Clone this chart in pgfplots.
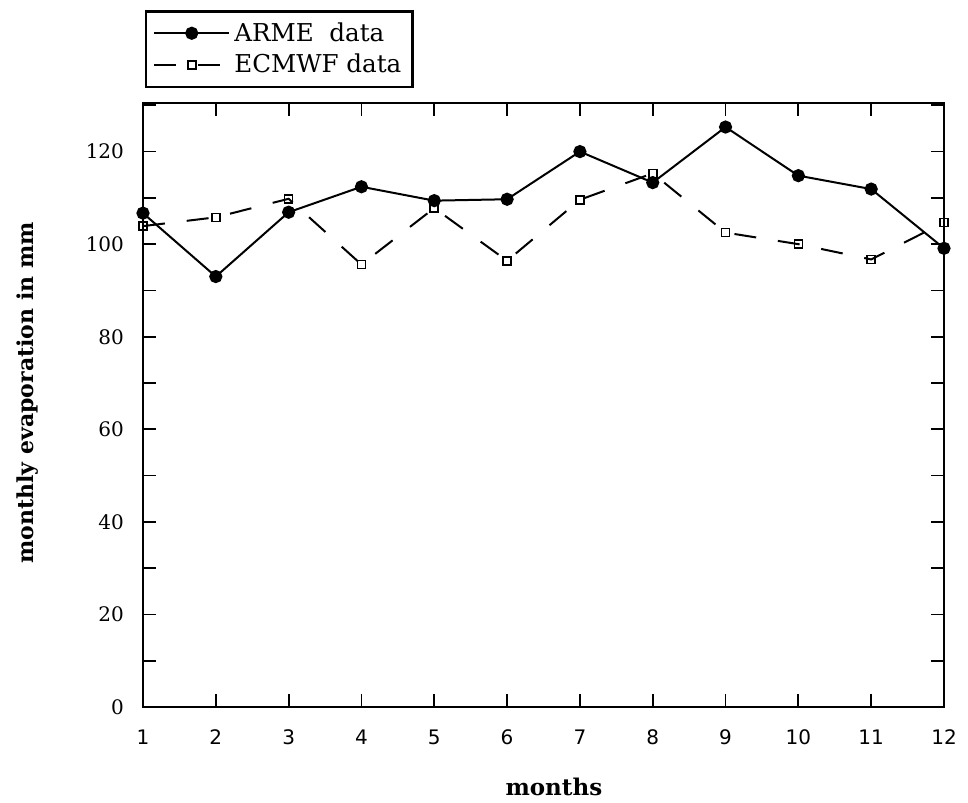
\documentclass[border=0pt]{standalone}
\usepackage{fontspec}
\setmainfont{DejaVu Serif}
\newfontfamily\sansfont{DejaVu Sans}
\usepackage{pgfplots}
\pgfplotsset{compat=1.18}
\usetikzlibrary{calc}

\begin{document}
\begin{tikzpicture}
\begin{axis}[
    scale only axis,
    width=400.5pt, height=302pt,
    xmin=1, xmax=12, ymin=0, ymax=130.5,
    xtick={1,...,12}, ytick={0,20,...,120},
    minor ytick={10,30,...,130},
    tick align=inside,
    major tick length=6.5pt, minor tick length=6.5pt,
    xtick pos=both, ytick pos=both,
    xticklabel pos=lower, yticklabel pos=left,
    axis line style={line width=1.2pt},
    every tick/.style={black, line width=0.9pt},
    clip=false,
    /pgf/number format/assume math mode=true,
    xticklabel style={font=\sansfont\fontsize{10}{12}\selectfont, yshift=-8pt},
    yticklabel style={font=\fontsize{10}{12}\selectfont, xshift=-6pt},
    xlabel={\textbf{months}},
    ylabel={\textbf{monthly evaporation in mm}},
    every axis x label/.style={at={(axis description cs:0.513,0)}, anchor=center, yshift=-40pt, font=\fontsize{11.5}{13}\selectfont},
    every axis y label/.style={at={(axis description cs:-0.1436,0.52)}, anchor=center, rotate=90, font=\fontsize{11}{13}\selectfont},
    legend style={at={(axis description cs:0,1)}, anchor=south west, xshift=1pt, yshift=7.5pt,
        draw=black, line width=1.2pt, font=\fontsize{12.3}{15}\selectfont,
        cells={anchor=west}, inner xsep=3.5pt, inner ysep=3.5pt, row sep=1pt},
    legend image code/.code={
        \draw[mark repeat=2, mark phase=2] plot coordinates {(0cm,0cm) (0.66cm,0cm) (1.32cm,0cm)};
    },
]
\addplot[black, line width=1pt, mark=*, mark size=2.8pt, mark options={solid}] coordinates {
    (1,106.7) (2,93.0) (3,106.9) (4,112.4) (5,109.4) (6,109.7)
    (7,120.0) (8,113.3) (9,125.3) (10,114.8) (11,111.9) (12,99.1)
};
\addlegendentry{ARME\ \ data}
\addplot[black, line width=1pt, dash pattern=on 11pt off 11pt, mark=square, mark size=2pt, mark options={solid, fill=white, line width=0.8pt}] coordinates {
    (1,103.9) (2,105.8) (3,109.8) (4,95.6) (5,107.8) (6,96.4)
    (7,109.6) (8,115.3) (9,102.5) (10,100.0) (11,96.7) (12,104.7)
};
\addlegendentry{ECMWF data}
% page margins as in the reference
\path ($(rel axis cs:0,0)+(-71.5pt,-47.5pt)$) rectangle ($(rel axis cs:1,1)+(12pt,51.5pt)$);
\end{axis}
\end{tikzpicture}
\end{document}
